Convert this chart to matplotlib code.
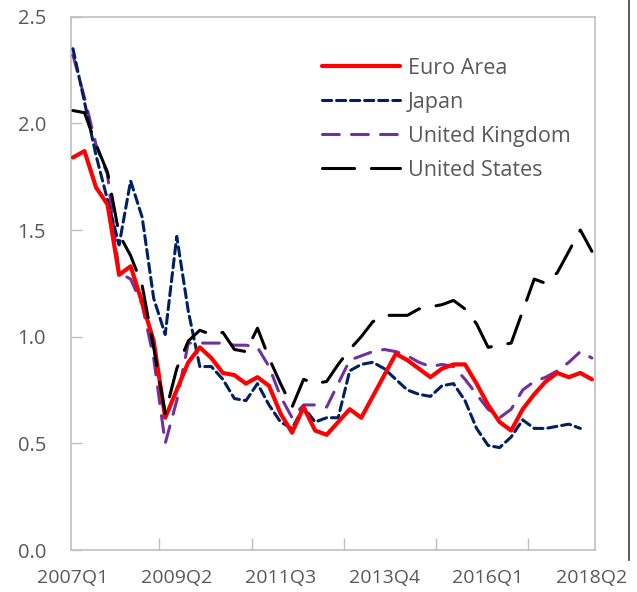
import numpy as np
import matplotlib
matplotlib.use("Agg")
import matplotlib.pyplot as plt
from matplotlib.lines import Line2D

quarters = [f"{y}Q{q}" for y in range(2007, 2019) for q in range(1, 5)][:46]
tick_labels = ["2007Q1", "2009Q2", "2011Q3", "2013Q4", "2016Q1", "2018Q2"]

euro_area = [1.84, 1.87, 1.70, 1.62, 1.29, 1.33, 1.16, 0.98, 0.62, 0.75,
             0.88, 0.95, 0.90, 0.83, 0.82, 0.78, 0.81, 0.77, 0.64, 0.55,
             0.67, 0.56, 0.54, 0.60, 0.66, 0.62, 0.72, 0.82, 0.92, 0.89,
             0.85, 0.81, 0.85, 0.87, 0.87, 0.78, 0.68, 0.60, 0.56, 0.66,
             0.73, 0.79, 0.83, 0.81, 0.83, 0.80]
japan = [2.35, 2.10, 1.85, 1.64, 1.43, 1.73, 1.56, 1.18, 1.01, 1.47,
         1.12, 0.86, 0.86, 0.80, 0.71, 0.70, 0.78, 0.68, 0.60, 0.57,
         0.67, 0.60, 0.62, 0.62, 0.84, 0.87, 0.88, 0.85, 0.80, 0.75,
         0.73, 0.72, 0.77, 0.78, 0.70, 0.57, 0.49, 0.48, 0.53, 0.61,
         0.57, 0.57, 0.58, 0.59, 0.57, np.nan]
united_kingdom = [2.32, 2.12, 1.90, 1.76, 1.30, 1.27, 1.15, 0.90, 0.50, 0.70,
                  0.97, 0.97, 0.97, 0.97, 0.96, 0.96, 0.95, 0.86, 0.72, 0.62,
                  0.68, 0.68, 0.67, 0.78, 0.89, 0.91, 0.93, 0.94, 0.93, 0.91,
                  0.88, 0.86, 0.87, 0.86, 0.80, 0.73, 0.66, 0.62, 0.66, 0.75,
                  0.79, 0.81, 0.84, 0.88, 0.93, 0.90]
united_states = [2.06, 2.05, 1.90, 1.77, 1.48, 1.38, 1.24, 0.95, 0.64, 0.85,
                 0.98, 1.03, 1.01, 1.02, 0.94, 0.93, 1.04, 0.90, 0.78, 0.67,
                 0.80, 0.78, 0.79, 0.87, 0.94, 1.00, 1.07, 1.10, 1.10, 1.10,
                 1.13, 1.14, 1.15, 1.17, 1.13, 1.06, 0.95, 0.96, 0.97, 1.12,
                 1.27, 1.25, 1.30, 1.40, 1.50, 1.40]

text_color = "#595959"
grid_color = "#BFBFBF"
plt.rcParams["font.family"] = ["Open Sans", "DejaVu Sans"]

fig = plt.figure(figsize=(6.37, 5.92), dpi=100)
ax = fig.add_axes([71/637, 1 - 550/592, (595 - 71)/637, (550 - 16.7)/592])

x = np.arange(len(quarters))
ax.plot(x, euro_area, color="#FF0000", lw=3.0, solid_capstyle="round",
        solid_joinstyle="round", label="Euro Area", zorder=5)
ax.plot(x, japan, color="#002060", lw=2.2, dashes=(3, 1.6),
        dash_capstyle="round", label="Japan", zorder=4)
ax.plot(x, united_kingdom, color="#7030A0", lw=2.2, dashes=(5.5, 4),
        dash_capstyle="round", label="United Kingdom", zorder=3)
ax.plot(x, united_states, color="#000000", lw=2.2, dashes=(10.5, 5.5),
        dash_capstyle="round", label="United States", zorder=6)

ax.set_xlim(-0.17, 45.27)
ax.set_ylim(0, 2.5)

ax.set_yticks(np.arange(0, 2.51, 0.5))
ax.set_yticklabels([f"{v:.1f}" for v in np.arange(0, 2.51, 0.5)])

label_pos = [quarters.index(t) for t in tick_labels]
ax.set_xticks(label_pos)
ax.set_xticklabels(tick_labels)
ax.set_xticks([7.5, 15.5, 23.5, 31.5, 39.5], minor=True)

ax.tick_params(axis="y", direction="in", length=8, width=1, color=grid_color,
               labelcolor=text_color, labelsize=14.5, pad=18)
ax.tick_params(axis="x", which="major", length=0, labelcolor=text_color,
               labelsize=14, pad=14)
ax.tick_params(axis="x", which="minor", direction="in", length=9, width=1,
               color=grid_color)

for s in ax.spines.values():
    s.set_color(grid_color)
    s.set_linewidth(1.2)

leg = ax.legend(loc="upper left", bbox_to_anchor=(322/637, 1 - 58/592),
                bbox_transform=fig.transFigure, frameon=False,
                fontsize=15.5, handlelength=3.6, handletextpad=0.38,
                labelspacing=0.6, borderpad=0, borderaxespad=0)
for t in leg.get_texts():
    t.set_color(text_color)

fig.add_artist(Line2D([629/637, 629/637], [1, 1 - 560/592],
                      transform=fig.transFigure, color="#404040", lw=1.2))

fig.savefig("out.png", dpi=100)
